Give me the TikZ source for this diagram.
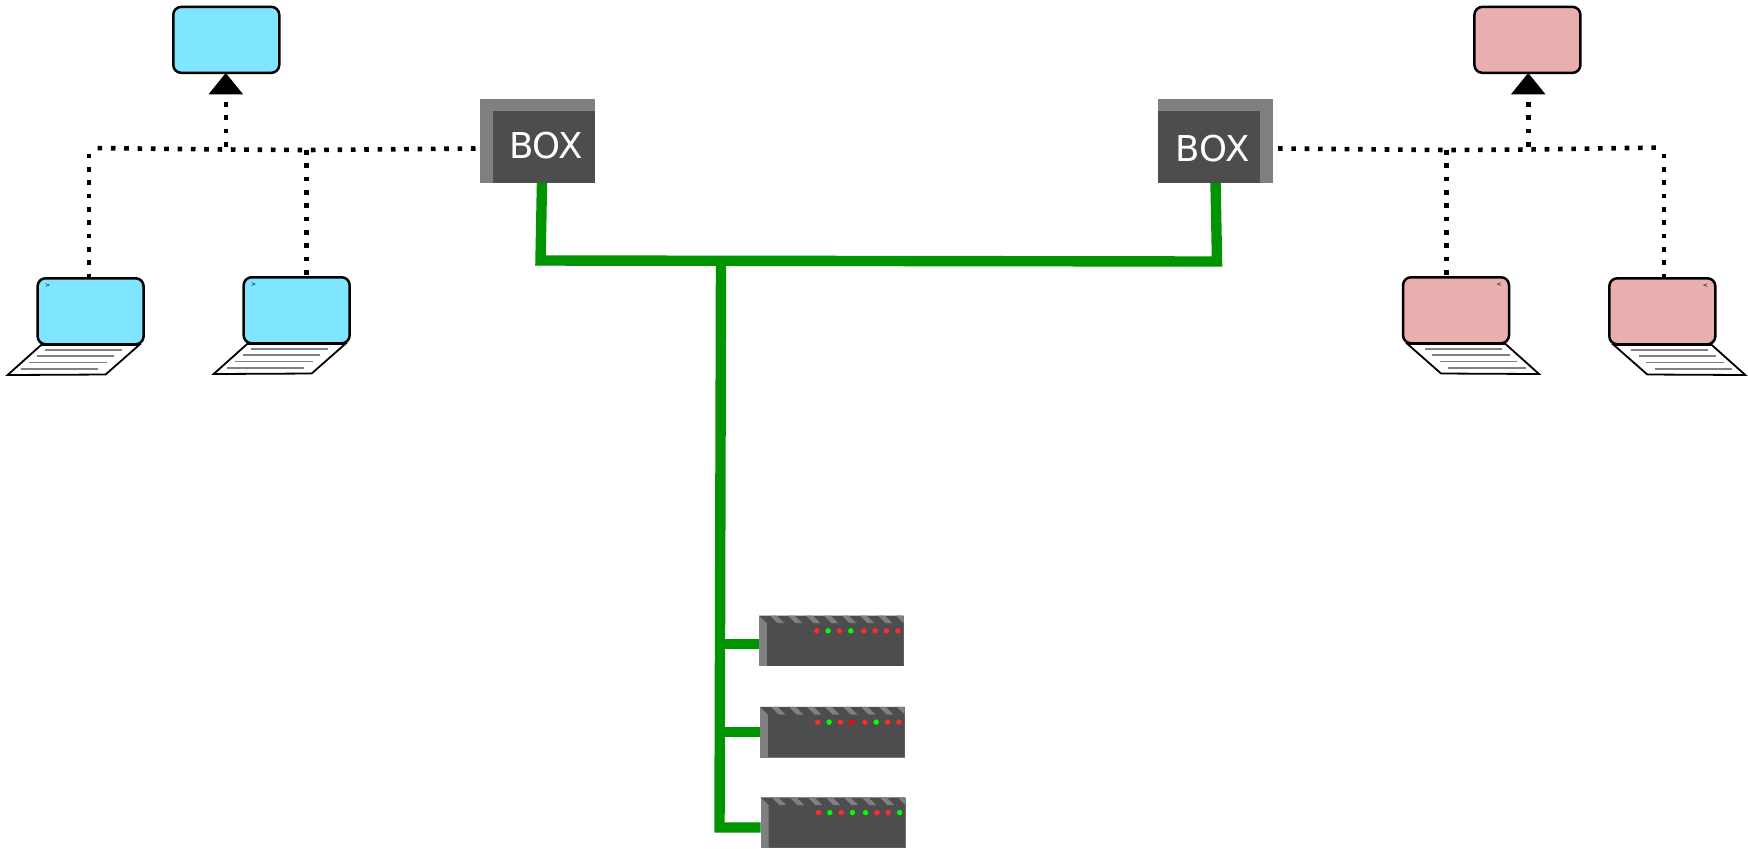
\documentclass[tikz,border=0pt]{standalone}
\usepackage{fontspec}
\setmainfont{DejaVu Sans}
\usetikzlibrary{arrows.meta}
\definecolor{skyfill}{HTML}{80E5FF}
\definecolor{pinkfill}{HTML}{E9AFAF}
\definecolor{boxdark}{HTML}{4D4D4D}
\definecolor{boxlight}{HTML}{808080}
\definecolor{trunkgreen}{HTML}{009400}
\definecolor{ledred}{HTML}{FF2A2A}
\definecolor{ledgreen}{HTML}{00FF00}
\tikzset{
  screen/.style={draw=black,line width=1.25pt,rounded corners=4pt,anchor=north west,outer sep=0pt,
    minimum width=53pt,minimum height=33pt,inner sep=0pt,fill=#1},
  boxback/.style={fill=boxlight,anchor=north west,inner sep=0pt,minimum width=57.3pt,minimum height=41.7pt},
  boxfront/.style={fill=boxdark,anchor=north west,inner sep=0pt,minimum width=51pt,minimum height=36.2pt},
  boxtext/.style={text=white,font=\fontsize{17.8}{17.8}\selectfont,inner sep=0pt},
  rack/.style={fill=boxlight,anchor=north west,inner sep=0pt,minimum width=72.35pt,minimum height=25.15pt},
  dotline/.style={line width=2.3pt,dash pattern=on 2.3pt off 4.367pt},
  trunk/.style={draw=trunkgreen,line width=5.2pt,line join=miter,line cap=butt},
  tiptop/.style={-{Triangle[length=10.7pt,width=16.6pt]}},
  keylines/.style={draw=gray,line width=.55pt}
}
% laptop: name, screen left, screen top, fill, side (1 or -1), prompt
\newcommand{\laptop}[6]{
  \begin{scope}[shift={(#2+53,#3)},xscale=#5]
    \draw[line width=.9pt,fill=white] (-49.5,66.75) -- (48.5,66.75) -- (15,96.25) -- (-83,96.75) -- cycle;
    \draw[keylines] (-45.5,71.75) -- (31.5,71.75);
    \draw[keylines] (-53.5,77.75) -- (23.6,77.75);
    \draw[keylines] (-61.4,84.45) -- (16.5,84.45);
    \draw[keylines] (-70,90.75) -- (7.8,90.75);
  \end{scope}
  \node[screen=#4] (#1) at (#2,#3) {};
  \node[font=\fontsize{3}{3}\selectfont,inner sep=0pt] (#1prompt) at (#2+53-#5*43,#3+7.75) {#6};
}
% rack unit: name, left, top, lamp colours
\newcommand{\server}[4]{
  \node[rack] (#1) at (#2,#3) {};
  \begin{scope}[shift={(#2,#3)}]
    \fill[boxdark] (0,0) -- (8,7.7) -- (8,50.3) -- (144.7,50.3) -- (144.7,0) -- cycle;
    \foreach \s in {11,29,...,119}
      \fill[boxlight] (\s,0) -- ++(6.7,0) -- ++(7.7,7.7) -- ++(-6.7,0) -- cycle;
    \fill[boxlight] (137,0) -- (143.7,0) -- (144.7,1) -- (144.7,7.7) -- cycle;
    \foreach \c [count=\i] in {#4} {
      \pgfmathsetmacro\lx{46.4+11.35*\i+(\i>4)*1.7}
      \fill[\c] (\lx,15.3) circle (2.7);
    }
  \end{scope}
}

\begin{document}
\begin{tikzpicture}[x=0.5pt,y=-0.5pt]
  \useasboundingbox (0,0) rectangle (1748,848);

  % green trunk
  \coordinate (trunkL) at (542,182);
  \coordinate (trunkR) at (1215.5,182);
  \coordinate (bendL) at (540.5,260.5);
  \coordinate (bendR) at (1217,261.5);
  \coordinate (bendT) at (721,261);
  \coordinate (bendB) at (719.5,827.5);
  \coordinate (tapA) at (720,644);
  \coordinate (tapB) at (720,732);

  % server units
  \server{srvA}{759}{615.5}{ledred,ledgreen,ledred,ledgreen,ledred,ledred,ledred,ledred}
  \server{srvB}{760}{706.8}{ledred,ledgreen,ledred,red,ledred,ledgreen,ledred,ledred}
  \server{srvC}{760.7}{797.3}{ledred,ledgreen,ledred,ledgreen,ledgreen,ledred,ledred,ledgreen}

  \draw[trunk] (trunkL) -- (bendL) -- (bendR) -- (trunkR);
  \draw[trunk] (bendT) -- (bendB) -- (bendB -| srvC.west);
  \draw[trunk] (tapA) -- (tapA -| srvA.west);
  \draw[trunk] (tapB) -- (tapB -| srvB.west);

  % left side
  \node[screen=skyfill] (topL) at (173.25,6.85) {};
  \node[boxback] (boxLback) at (480,99) {};
  \node[boxfront] (boxL) at (493,110.5) {};
  \node[boxtext] (boxLtext) at (546,145.5) {BOX};
  \laptop{lapA}{37.6}{278.25}{skyfill}{1}{>}
  \laptop{lapB}{243.65}{277.25}{skyfill}{1}{>}

  \coordinate (dotL) at (475.5,148.5);
  \coordinate (joinB) at (306.3,150);
  \coordinate (joinA) at (225.8,149.5);
  \coordinate (cornerA) at (89,148);
  \draw[dotline] (dotL) -- (joinB) -- (joinA) -- (91,148);
  \draw[dotline] (cornerA) ++(0,5.7) -- (cornerA |- lapA.north);
  \draw[dotline] (joinB) -- (joinB |- lapB.north);
  \draw[dotline,tiptop] (joinA) ++(0,-2.8) -- (joinA |- topL.south);

  % right side
  \node[screen=pinkfill] (topR) at (1474.4,6.85) {};
  \node[boxback] (boxRback) at (1157.7,99) {};
  \node[boxfront] (boxR) at (1157.7,110.5) {};
  \node[boxtext] (boxRtext) at (1212.6,149) {BOX};
  \laptop{lapC}{1403}{277.25}{pinkfill}{-1}{<}
  \laptop{lapD}{1609.3}{278.25}{pinkfill}{-1}{<}

  \coordinate (dotR) at (1278,148.5);
  \coordinate (joinC) at (1446.6,150);
  \coordinate (joinD) at (1528.2,149.5);
  \coordinate (cornerD) at (1664,147.5);
  \draw[dotline] (dotR) -- (joinC) -- (joinD) -- (1661,147.5);
  \draw[dotline] (cornerD) ++(0,6.2) -- (cornerD |- lapD.north);
  \draw[dotline] (joinC) -- (joinC |- lapC.north);
  \draw[dotline,tiptop] (joinD) ++(0,-2.8) -- (joinD |- topR.south);
\end{tikzpicture}
\end{document}
